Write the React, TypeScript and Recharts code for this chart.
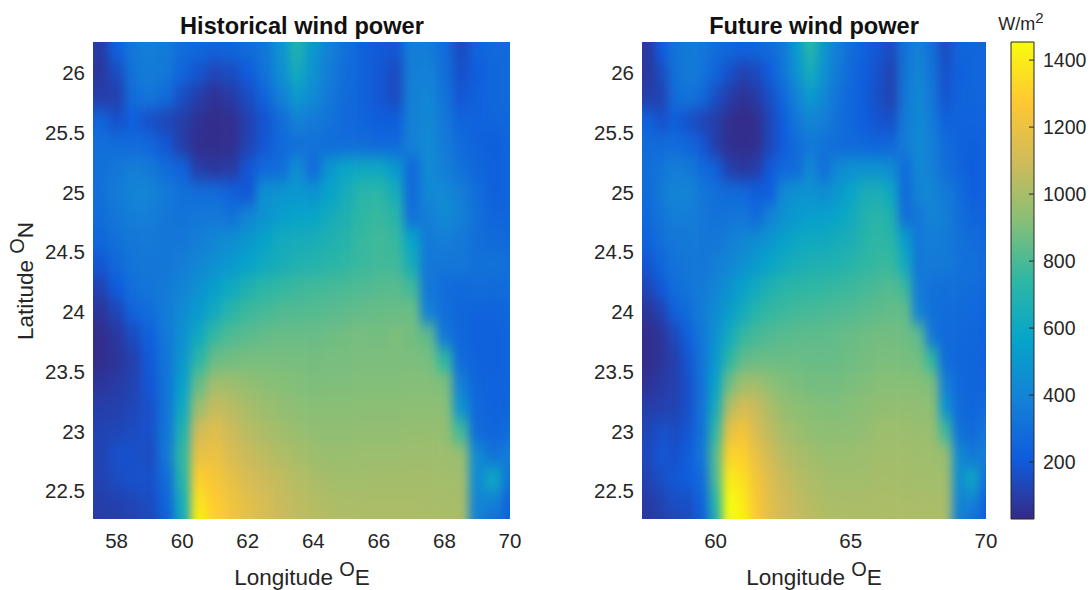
import React from 'react';
import { ScatterChart, Scatter, XAxis, YAxis, ReferenceArea } from 'recharts';

const longitudes = [57.5, 58, 58.5, 59, 59.5, 60, 60.5, 61, 61.5, 62, 62.5, 63, 63.5, 64, 64.5, 65, 65.5, 66, 66.5, 67, 67.5, 68, 68.5, 69, 69.5, 70];
const latitudes = [26.2, 26, 25.8, 25.6, 25.4, 25.2, 25, 24.8, 24.6, 24.4, 24.2, 24, 23.8, 23.6, 23.4, 23.2, 23, 22.8, 22.6, 22.4, 22.2];

// W/m2, one row per latitude
const historical = [
  [90, 230, 340, 370, 350, 290, 260, 240, 250, 280, 330, 480, 680, 500, 380, 300, 240, 200, 190, 370, 360, 290, 150, 240, 270, 270],
  [80, 150, 320, 360, 340, 250, 180, 130, 150, 210, 310, 450, 620, 470, 360, 290, 240, 190, 150, 370, 390, 300, 170, 220, 260, 270],
  [100, 110, 290, 330, 280, 160, 100, 60, 90, 150, 240, 370, 510, 430, 340, 280, 240, 190, 150, 380, 410, 320, 190, 230, 260, 270],
  [250, 170, 220, 170, 130, 100, 60, 40, 50, 110, 180, 280, 380, 350, 320, 270, 250, 220, 220, 380, 420, 340, 250, 240, 250, 260],
  [300, 290, 280, 260, 190, 100, 45, 40, 50, 120, 190, 270, 300, 320, 290, 290, 290, 270, 270, 380, 430, 360, 280, 240, 220, 250],
  [310, 340, 370, 350, 290, 240, 100, 80, 90, 190, 270, 290, 450, 280, 500, 580, 600, 600, 520, 270, 430, 370, 310, 260, 230, 250],
  [300, 360, 400, 400, 350, 310, 290, 280, 230, 190, 460, 490, 500, 480, 560, 640, 720, 730, 640, 280, 420, 430, 370, 290, 230, 250],
  [290, 340, 370, 370, 340, 320, 340, 350, 310, 400, 480, 530, 560, 570, 630, 680, 740, 760, 720, 310, 370, 430, 380, 300, 250, 250],
  [260, 310, 340, 350, 340, 340, 370, 410, 450, 500, 560, 620, 640, 650, 680, 710, 760, 780, 760, 570, 350, 370, 350, 300, 280, 270],
  [190, 270, 330, 340, 340, 370, 410, 460, 510, 560, 610, 650, 680, 700, 720, 740, 770, 780, 780, 640, 340, 340, 340, 310, 320, 300],
  [120, 210, 300, 330, 350, 400, 460, 540, 610, 680, 730, 750, 770, 780, 790, 800, 810, 820, 830, 780, 340, 290, 270, 290, 280, 290],
  [70, 130, 240, 290, 360, 430, 520, 620, 720, 770, 790, 810, 815, 820, 830, 840, 850, 860, 860, 870, 385, 300, 260, 240, 240, 260],
  [40, 80, 150, 230, 340, 460, 610, 760, 810, 830, 850, 860, 860, 860, 870, 880, 890, 880, 900, 880, 840, 340, 260, 230, 230, 250],
  [40, 70, 110, 200, 330, 490, 730, 860, 880, 890, 890, 890, 890, 885, 890, 890, 900, 900, 900, 900, 890, 745, 280, 240, 230, 250],
  [70, 90, 120, 190, 320, 550, 850, 980, 970, 950, 930, 920, 910, 900, 905, 905, 910, 910, 910, 915, 915, 900, 370, 250, 240, 240],
  [100, 110, 130, 170, 320, 600, 970, 1070, 1040, 1000, 970, 950, 935, 925, 925, 925, 930, 930, 930, 935, 935, 930, 480, 270, 240, 250],
  [120, 130, 150, 170, 330, 680, 1100, 1150, 1090, 1040, 1010, 985, 965, 950, 945, 945, 950, 950, 950, 955, 955, 950, 780, 280, 250, 290],
  [120, 170, 170, 150, 340, 740, 1190, 1200, 1130, 1080, 1050, 1020, 1000, 975, 965, 965, 970, 970, 970, 975, 975, 975, 960, 430, 320, 370],
  [120, 150, 170, 170, 280, 700, 1300, 1250, 1180, 1120, 1090, 1060, 1030, 1010, 990, 985, 985, 990, 990, 990, 990, 985, 985, 440, 600, 320],
  [100, 110, 130, 150, 240, 640, 1370, 1290, 1220, 1160, 1120, 1080, 1050, 1030, 1015, 1005, 1005, 1005, 1005, 1005, 1000, 1000, 995, 400, 380, 240],
  [90, 100, 120, 130, 220, 600, 1420, 1320, 1240, 1180, 1130, 1090, 1060, 1040, 1030, 1020, 1015, 1015, 1015, 1015, 1010, 1010, 1005, 380, 280, 230],
];

const future = [
  [80, 210, 320, 350, 340, 290, 260, 230, 250, 280, 340, 520, 720, 500, 370, 290, 230, 190, 150, 320, 390, 300, 150, 250, 250, 250],
  [80, 150, 310, 350, 330, 250, 170, 120, 140, 210, 330, 480, 640, 470, 350, 270, 220, 170, 120, 330, 410, 320, 170, 230, 250, 250],
  [100, 120, 290, 320, 270, 160, 100, 60, 90, 160, 260, 400, 520, 420, 320, 260, 210, 160, 120, 340, 420, 340, 180, 240, 250, 250],
  [230, 170, 220, 170, 130, 100, 50, 35, 50, 130, 220, 340, 410, 370, 310, 260, 220, 180, 170, 350, 420, 360, 230, 240, 240, 240],
  [280, 280, 280, 260, 190, 100, 50, 45, 50, 130, 210, 290, 340, 320, 290, 270, 260, 250, 260, 360, 430, 370, 280, 240, 220, 240],
  [290, 330, 370, 350, 280, 230, 110, 80, 100, 200, 270, 280, 430, 290, 420, 460, 470, 470, 440, 280, 420, 380, 300, 250, 220, 240],
  [280, 350, 400, 400, 340, 300, 280, 270, 220, 220, 430, 470, 480, 440, 500, 570, 650, 660, 590, 270, 400, 410, 350, 290, 220, 240],
  [270, 330, 370, 370, 340, 310, 330, 340, 280, 390, 470, 510, 540, 540, 570, 620, 690, 720, 680, 300, 340, 400, 370, 300, 250, 240],
  [240, 300, 340, 350, 340, 340, 370, 410, 440, 490, 550, 590, 610, 610, 640, 660, 710, 740, 720, 540, 340, 370, 350, 310, 290, 260],
  [190, 260, 320, 340, 340, 370, 410, 460, 520, 570, 620, 650, 670, 680, 690, 710, 740, 760, 760, 620, 340, 360, 350, 320, 310, 280],
  [130, 200, 290, 330, 350, 400, 470, 550, 620, 680, 720, 735, 740, 750, 760, 770, 790, 800, 820, 770, 350, 310, 300, 300, 290, 260],
  [70, 120, 230, 290, 360, 440, 530, 630, 710, 750, 770, 785, 790, 800, 805, 815, 830, 840, 850, 850, 390, 310, 290, 280, 270, 240],
  [40, 70, 140, 230, 340, 470, 620, 750, 790, 810, 825, 835, 840, 840, 850, 860, 870, 880, 880, 870, 840, 340, 270, 270, 260, 240],
  [40, 70, 110, 190, 330, 500, 730, 840, 860, 865, 865, 865, 860, 855, 860, 870, 885, 895, 895, 890, 880, 745, 280, 260, 250, 230],
  [60, 90, 110, 170, 320, 560, 870, 980, 980, 940, 910, 895, 885, 885, 885, 895, 905, 920, 920, 920, 920, 900, 370, 270, 250, 240],
  [100, 110, 120, 170, 320, 640, 1020, 1110, 1080, 1010, 960, 935, 920, 910, 910, 920, 930, 945, 950, 950, 945, 940, 480, 280, 260, 270],
  [130, 170, 150, 190, 320, 740, 1180, 1240, 1120, 1050, 1000, 970, 950, 935, 935, 940, 950, 970, 975, 970, 965, 960, 780, 310, 280, 330],
  [140, 190, 170, 220, 340, 820, 1310, 1300, 1190, 1100, 1040, 1010, 985, 965, 965, 965, 975, 985, 985, 985, 980, 980, 960, 430, 340, 370],
  [120, 160, 190, 220, 280, 800, 1400, 1360, 1240, 1140, 1080, 1040, 1015, 995, 985, 985, 985, 995, 995, 990, 985, 985, 985, 440, 600, 300],
  [90, 120, 160, 160, 240, 720, 1454, 1400, 1260, 1160, 1100, 1065, 1035, 1015, 1005, 1005, 1005, 1010, 1010, 1005, 1005, 1005, 1000, 400, 390, 230],
  [80, 100, 120, 140, 220, 660, 1454, 1420, 1280, 1170, 1110, 1075, 1050, 1030, 1020, 1015, 1015, 1015, 1015, 1015, 1010, 1010, 1005, 370, 280, 220],
];

const histLonTicks = [58, 60, 62, 64, 66, 68, 70];
const futureLonTicks = [60, 65, 70];
const latTicks = [22.5, 23, 23.5, 24, 24.5, 25, 25.5, 26];
const colorTicks = [200, 400, 600, 800, 1000, 1200, 1400];

const LON_DOMAIN = [57.28, 70];
const LAT_DOMAIN = [22.265, 26.26];
const C_MIN = 30;
const C_MAX = 1454;
const PLOT_H = 477;
const FONT = '"Liberation Sans", Arial, sans-serif';
const INK = '#262626';

// parula, equal spacing
const parula = ['#352a87', '#0f5cdd', '#1481d6', '#06a4ca', '#2eb7a4', '#87bf77', '#d1bb59', '#fec832', '#f9fb0e'];

const hex = (c: string, i: number) => parseInt(c.slice(1 + i * 2, 3 + i * 2), 16);

function colorOf(v: number) {
  const t = Math.min(0.9999, Math.max(0, (v - C_MIN) / (C_MAX - C_MIN))) * (parula.length - 1);
  const k = Math.floor(t);
  const f = t - k;
  const rgb = [0, 1, 2].map((i) => Math.round(hex(parula[k], i) * (1 - f) + hex(parula[k + 1], i) * f));
  return `rgb(${rgb.join(',')})`;
}

const toCells = (rows: number[][]) =>
  rows.flatMap((row, r) => row.map((v, c) => ({ lon: longitudes[c], lat: latitudes[r], v, r, c })));

function cellShape(plotW: number) {
  const w = (plotW / (LON_DOMAIN[1] - LON_DOMAIN[0])) * 0.5;
  const h = (PLOT_H / (LAT_DOMAIN[1] - LAT_DOMAIN[0])) * 0.2;
  return (p: any) => {
    const { r, c, v } = p.payload;
    // border cells run past the plot so the blur doesn't fade at the edge
    const padL = c === 0 ? 30 : 0;
    const padR = c === longitudes.length - 1 ? 30 : 0;
    const padT = r === 0 ? 30 : 0;
    const padB = r === latitudes.length - 1 ? 30 : 0;
    return (
      <rect
        x={p.cx - w / 2 - padL}
        y={p.cy - h / 2 - padT}
        width={w + 0.6 + padL + padR}
        height={h + 0.6 + padT + padB}
        fill={colorOf(v)}
      />
    );
  };
}

const tickStyle = { fontSize: 20.5, fontFamily: FONT, fill: INK };

function HeatPanel({ rows, lonTicks, plotW, left, width, margin, title, titleX, labelX }: any) {
  return (
    <div style={{ position: 'absolute', left, top: 0 }}>
      <ScatterChart width={width} height={590} margin={margin}>
        <XAxis
          type="number"
          dataKey="lon"
          domain={LON_DOMAIN}
          ticks={lonTicks}
          allowDataOverflow
          height={40}
          axisLine={false}
          tickLine={false}
          tickMargin={8}
          tick={tickStyle}
        />
        <YAxis
          type="number"
          dataKey="lat"
          domain={LAT_DOMAIN}
          ticks={latTicks}
          allowDataOverflow
          width={60}
          axisLine={false}
          tickLine={false}
          tickMargin={2}
          tick={tickStyle}
        />
        <Scatter data={toCells(rows)} shape={cellShape(plotW)} isAnimationActive={false} />
        <text x={titleX} y={34} textAnchor="middle" fontSize={23.6} fontWeight="bold" fontFamily={FONT} fill="#111">
          {title}
        </text>
        <text x={labelX} y={585} textAnchor="middle" fontSize={22.5} fontFamily={FONT} fill={INK}>
          Longitude <tspan dy={-9} fontSize={20}>O</tspan><tspan dy={9}>E</tspan>
        </text>
      </ScatterChart>
    </div>
  );
}

function ColorTick(p: any) {
  return (
    <g>
      <line x1={39} x2={44} y1={p.y} y2={p.y} stroke={INK} strokeWidth={1} />
      <text x={53} y={p.y + 7} fontSize={19.5} fontFamily={FONT} fill={INK}>
        {p.payload.value}
      </text>
    </g>
  );
}

function ColorBar() {
  const anchors = colorTicks.map((y) => ({ x: 0.5, y }));
  return (
    <div style={{ position: 'absolute', left: 990, top: 0 }}>
      <ScatterChart width={101} height={590} margin={{ top: 42, bottom: 71, left: 21, right: 7 }}>
        <defs>
          <linearGradient id="parulaBar" x1="0" y1="1" x2="0" y2="0">
            {parula.map((c, i) => (
              <stop key={c} offset={i / (parula.length - 1)} stopColor={c} />
            ))}
          </linearGradient>
        </defs>
        <XAxis type="number" dataKey="x" domain={[0, 1]} hide />
        <YAxis
          type="number"
          dataKey="y"
          orientation="right"
          domain={[C_MIN, C_MAX]}
          ticks={colorTicks}
          width={50}
          axisLine={false}
          tickLine={false}
          tick={<ColorTick />}
        />
        <ReferenceArea x1={0} x2={1} y1={C_MIN} y2={C_MAX} fill="url(#parulaBar)" fillOpacity={1} stroke={INK} strokeWidth={1} />
        <Scatter data={anchors} shape={() => <g />} isAnimationActive={false} />
        <text x={31} y={30} textAnchor="middle" fontSize={18} fontFamily={FONT} fill={INK}>
          W/m<tspan dy={-7} fontSize={15}>2</tspan>
        </text>
      </ScatterChart>
    </div>
  );
}

export default function App() {
  return (
    <div style={{ position: 'absolute', left: 0, top: 0, width: 1091, height: 590, overflow: 'hidden', background: '#fff' }}>
      <style>{`.heat .recharts-scatter { filter: url(#soften); }`}</style>
      <svg width={0} height={0} style={{ position: 'absolute' }}>
        <defs>
          <filter id="soften" x="-10%" y="-10%" width="120%" height="120%" colorInterpolationFilters="sRGB">
            <feGaussianBlur stdDeviation="5 8" />
          </filter>
        </defs>
      </svg>
      <div className="heat">
        <HeatPanel
          rows={historical}
          lonTicks={histLonTicks}
          plotW={417}
          left={0}
          width={550}
          margin={{ top: 42, bottom: 31, left: 33, right: 40 }}
          title="Historical wind power"
          titleX={302}
          labelX={302}
        />
        <HeatPanel
          rows={future}
          lonTicks={futureLonTicks}
          plotW={344}
          left={550}
          width={500}
          margin={{ top: 42, bottom: 31, left: 32, right: 64 }}
          title="Future wind power"
          titleX={264}
          labelX={264}
        />
      </div>
      <ColorBar />
      <svg width={40} height={590} style={{ position: 'absolute', left: 0, top: 0 }}>
        <text transform="translate(33 281) rotate(-90)" textAnchor="middle" fontSize={22.5} fontFamily={FONT} fill={INK}>
          Latitude <tspan dy={-9} fontSize={20}>O</tspan><tspan dy={9}>N</tspan>
        </text>
      </svg>
    </div>
  );
}
